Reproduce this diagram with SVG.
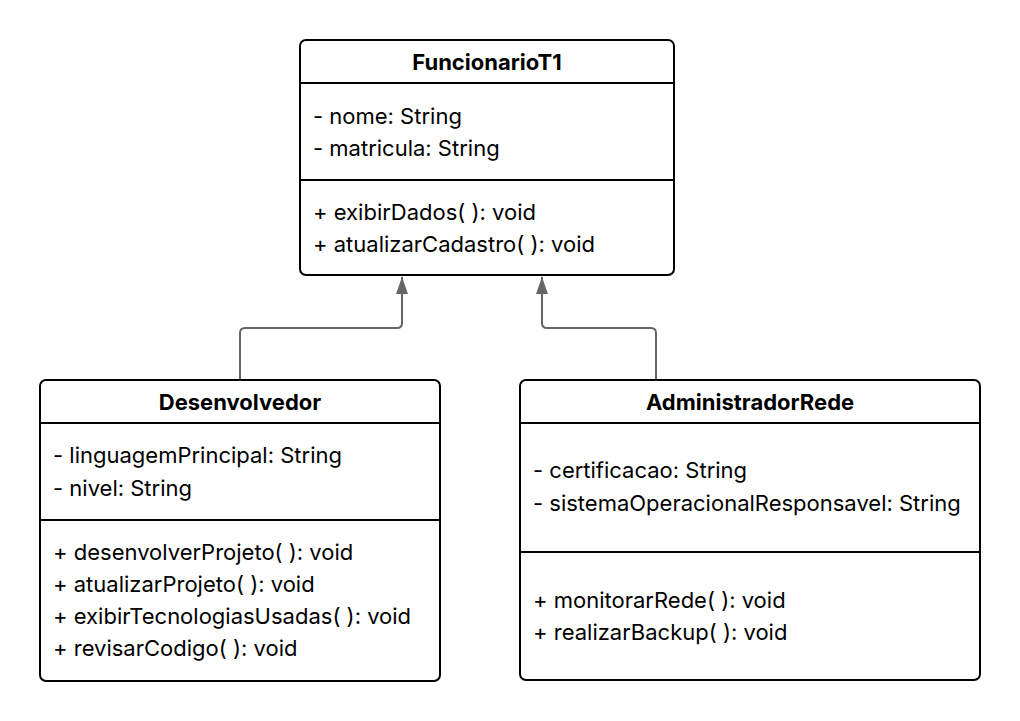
<svg xmlns="http://www.w3.org/2000/svg" width="1020" height="721" viewBox="0 0 1020 721">
<defs>
<style>
.box{fill:#fff;stroke:#000;stroke-width:2}
.div{stroke:#000;stroke-width:2}
.t{font-family:Inter,"Noto Sans","Liberation Sans",sans-serif;font-size:22px;fill:#000}
.h{font-family:Inter,"Noto Sans","Liberation Sans",sans-serif;font-size:22px;font-weight:700;fill:#000;text-anchor:middle}
.edge{fill:none;stroke:#666;stroke-width:2}
</style>
<marker id="tri" viewBox="0 0 17 12" refX="17" refY="6" markerWidth="17" markerHeight="12" markerUnits="userSpaceOnUse" orient="auto">
<path d="M0,0 L17,6 L0,12 Z" fill="#666"/>
</marker>
</defs>
<rect width="1020" height="721" fill="#fff"/>
<g id="connectors">
<path class="edge" d="M240,380 V333 Q240,328 245,328 H397 Q402,328 402,323 V277" marker-end="url(#tri)"/>
<path class="edge" d="M656,380 V333 Q656,328 651,328 H547 Q542,328 542,323 V277" marker-end="url(#tri)"/>
</g>
<g id="FuncionarioT1">
<rect class="box" x="300" y="40" width="374" height="235" rx="6"/>
<line class="div" x1="300" y1="83" x2="674" y2="83"/>
<line class="div" x1="300" y1="180" x2="674" y2="180"/>
<text class="h" x="487" y="70">FuncionarioT1</text>
<text class="t" x="313" y="124">- nome: String</text>
<text class="t" x="313" y="156">- matricula: String</text>
<text class="t" x="313" y="220">+ exibirDados( ): void</text>
<text class="t" x="313" y="252">+ atualizarCadastro( ): void</text>
</g>
<g id="Desenvolvedor">
<rect class="box" x="40" y="380" width="400" height="301" rx="6"/>
<line class="div" x1="40" y1="423" x2="440" y2="423"/>
<line class="div" x1="40" y1="520" x2="440" y2="520"/>
<text class="h" x="240" y="410">Desenvolvedor</text>
<text class="t" x="53" y="463">- linguagemPrincipal: String</text>
<text class="t" x="53" y="496">- nivel: String</text>
<text class="t" x="53" y="560">+ desenvolverProjeto( ): void</text>
<text class="t" x="53" y="592">+ atualizarProjeto( ): void</text>
<text class="t" x="53" y="624">+ exibirTecnologiasUsadas( ): void</text>
<text class="t" x="53" y="656">+ revisarCodigo( ): void</text>
</g>
<g id="AdministradorRede">
<rect class="box" x="520" y="380" width="460" height="300" rx="6"/>
<line class="div" x1="520" y1="423" x2="980" y2="423"/>
<line class="div" x1="520" y1="552" x2="980" y2="552"/>
<text class="h" x="750" y="410">AdministradorRede</text>
<text class="t" x="533" y="478">- certificacao: String</text>
<text class="t" x="533" y="511">- sistemaOperacionalResponsavel: String</text>
<text class="t" x="533" y="608">+ monitorarRede( ): void</text>
<text class="t" x="533" y="640">+ realizarBackup( ): void</text>
</g>
</svg>
